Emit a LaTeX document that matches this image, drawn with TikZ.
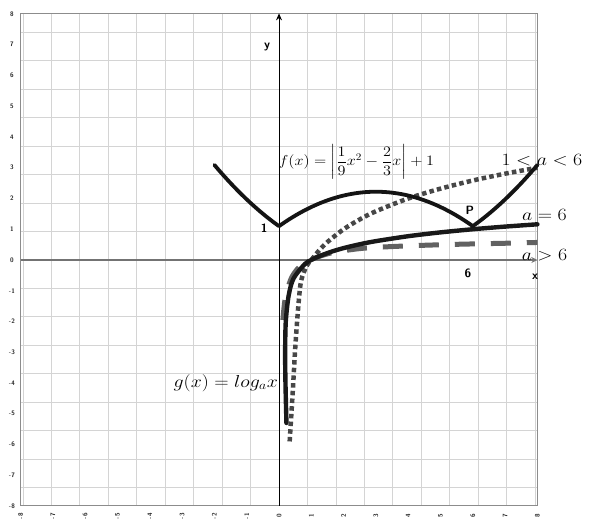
\documentclass[tikz,border=0pt]{standalone}
\usepackage{amsmath}
\usepackage{graphicx}
\usetikzlibrary{arrows.meta}
\begin{document}
\begin{tikzpicture}[x=32.3pt,y=30.75pt,
  gridline/.style={draw=black!17, line width=0.8pt},
  frameline/.style={draw=black!45, line width=1pt},
  tick/.style={font=\sffamily\bfseries\fontsize{6.5}{7}\selectfont, text=black!85, inner sep=0pt},
  lbl/.style={font=\sffamily\bfseries\fontsize{12}{13}\selectfont, inner sep=0pt},
  mlbl/.style={font=\fontsize{17}{19}\selectfont, inner sep=0pt},
  fcurve/.style={draw=black!92, line width=3.8pt, line join=round, line cap=round},
  logsolid/.style={draw=black!90, line width=4.4pt, line cap=round},
  logdotted/.style={draw=black!72, line width=4.5pt, dash pattern=on 4.5pt off 3.2pt},
  logdashed/.style={draw=black!62, line width=5pt, dash pattern=on 20pt off 16pt}]
\useasboundingbox (-8.638,-8.553) rectangle (9.628,8.455);
\fill[white] (-8.638,-8.553) rectangle (9.628,8.455);
% grid and frame
\draw[gridline] (-8,-8) grid (8,8);
\draw[frameline] (-8,-8) rectangle (8,8);
% tick labels
\foreach \v in {-8,...,8} {
  \node[tick] (ty\v) at (-8.27,\v) {\v};
  \node[tick, rotate=90] (tx\v) at (\v,-8.33) {\v};
}
% axes
\coordinate (xl) at (-8,0);
\coordinate (xr) at (8,0);
\coordinate (yb) at (0,-8);
\coordinate (yt) at (0,8.02);
\draw[black!55, line width=1.3pt, -{Stealth[length=6pt,width=6pt]}] (xl) -- (xr);
\draw[black, line width=1pt, -{Stealth[length=7pt,width=6pt]}] (yb) -- (yt);
% a > 6 (dashed)
\draw[logdashed] plot[smooth] coordinates {(0.12,-1.95) (0.2,-1.2) (0.4,-0.55) (0.7,-0.15) (1,0.02) (1.5,0.2) (2,0.3) (2.7,0.39) (4,0.46) (5.5,0.51) (7.25,0.55) (8,0.57)};
% 1 < a < 6 (dotted)
\draw[logdotted] plot[smooth] coordinates {(0.33,-5.9) (0.43,-4.2) (0.5,-2.9) (0.59,-1.6) (0.68,-0.7) (0.85,-0.2) (1,0) (1.25,0.32) (1.5,0.585) (2,1) (2.5,1.32) (3,1.585) (4,2) (5,2.32) (6,2.585) (7,2.807) (8,3)};
% a = 6 (solid)
\draw[logsolid] plot[smooth] coordinates {(0.23,-5.3) (0.2,-4) (0.19,-3) (0.21,-2) (0.3,-1.15) (0.45,-0.6) (0.8,-0.13) (1,0) (1.2,0.1018) (1.6,0.2623) (2,0.3869) (2.5,0.5114) (3,0.6131) (4,0.7737) (5,0.8982) (6,1) (7,1.086) (8,1.1606)};
% f(x)
\draw[fcurve] plot[domain=-2:8, samples=121] (\x, {1.1+1.12*abs(\x*\x/9-2*\x/3)});
% labels
\node[lbl] (ylab) at (-0.37,6.93) {y};
\node[lbl] (one) at (-0.46,1.04) {1};
\node[lbl] (plab) at (5.91,1.6) {P};
\node[lbl] (six) at (5.85,-0.42) {6};
\node[lbl] (xlab) at (7.93,-0.55) {x};
\node[font=\fontsize{14}{16}\selectfont, inner sep=0pt] (flab) at (2.4,3.18)
  {\scalebox{1.12}[1]{$f(x)=\left|\dfrac{1}{9}x^{2}-\dfrac{2}{3}x\right|+1$}};
\node[mlbl] (r1) at (8.14,3.25) {\scalebox{1.15}[1]{$1<a<6$}};
\node[mlbl] (r2) at (8.22,1.46) {\scalebox{1.15}[1]{$a=6$}};
\node[mlbl] (r3) at (8.22,0.16) {\scalebox{1.15}[1]{$a>6$}};
\node[font=\fontsize{18}{20}\selectfont, inner sep=0pt, anchor=east] (glab) at (-0.03,-4.0) {\scalebox{1.15}[1]{$g(x)=log_{a}x$}};
\end{tikzpicture}
\end{document}
